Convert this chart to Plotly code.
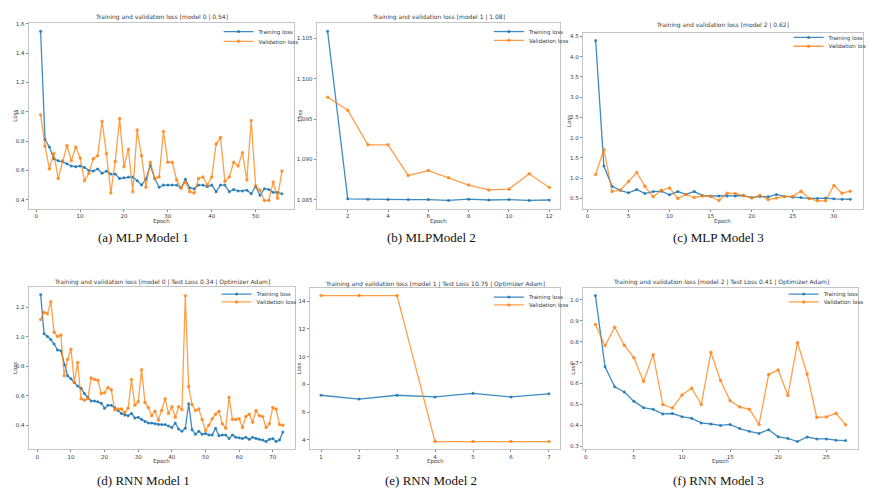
import plotly.graph_objects as go

# ---------------- data ----------------
a_train = [1.55, 0.81, 0.76, 0.68, 0.665, 0.66, 0.645, 0.63, 0.625, 0.63, 0.62, 0.60, 0.595, 0.61, 0.58,
           0.595, 0.575, 0.575, 0.545, 0.55, 0.555, 0.555, 0.53, 0.50, 0.54, 0.635, 0.545, 0.485, 0.50, 0.50,
           0.50, 0.50, 0.48, 0.54, 0.48, 0.475, 0.50, 0.50, 0.49, 0.50, 0.455, 0.50, 0.50, 0.455, 0.47,
           0.46, 0.46, 0.465, 0.44, 0.49, 0.43, 0.475, 0.47, 0.45, 0.45, 0.44]
a_val = [0.98, 0.765, 0.61, 0.715, 0.545, 0.665, 0.77, 0.665, 0.76, 0.685, 0.53, 0.58, 0.68, 0.70, 0.935,
         0.715, 0.445, 0.66, 0.955, 0.625, 0.745, 0.455, 0.875, 0.70, 0.485, 0.655, 0.545, 0.555, 0.865, 0.655,
         0.655, 0.535, 0.48, 0.52, 0.455, 0.445, 0.545, 0.555, 0.50, 0.555, 0.78, 0.825, 0.525, 0.555, 0.655,
         0.63, 0.72, 0.535, 0.94, 0.495, 0.465, 0.395, 0.395, 0.52, 0.41, 0.595]

b_train = [1.1059, 1.08510, 1.08505, 1.08500, 1.08500, 1.08500, 1.08490, 1.08505, 1.08495, 1.08500, 1.08490, 1.08495]
b_val = [1.0977, 1.0961, 1.0918, 1.0918, 1.0880, 1.0886, 1.0877, 1.0868, 1.0862, 1.0863, 1.0882, 1.0865]

c_train = [4.40, 1.30, 0.80, 0.70, 0.64, 0.72, 0.62, 0.67, 0.68, 0.59, 0.67, 0.60, 0.67, 0.57, 0.56, 0.56,
           0.56, 0.56, 0.57, 0.52, 0.55, 0.54, 0.60, 0.55, 0.53, 0.52, 0.50, 0.50, 0.51, 0.49, 0.48, 0.48]
c_val = [1.09, 1.71, 0.67, 0.71, 0.92, 1.14, 0.80, 0.54, 0.70, 0.76, 0.50, 0.60, 0.52, 0.56, 0.55, 0.45,
         0.63, 0.62, 0.57, 0.51, 0.58, 0.47, 0.51, 0.55, 0.55, 0.68, 0.50, 0.44, 0.44, 0.82, 0.63, 0.68]

d_train = [1.284, 1.02, 1.00, 0.98, 0.95, 0.91, 0.905, 0.81, 0.735, 0.715, 0.69, 0.665, 0.65, 0.615, 0.59,
           0.565, 0.565, 0.56, 0.55, 0.515, 0.535, 0.535, 0.52, 0.50, 0.48, 0.47, 0.465, 0.48, 0.45, 0.455,
           0.44, 0.425, 0.415, 0.415, 0.41, 0.405, 0.405, 0.405, 0.395, 0.385, 0.415, 0.375, 0.36, 0.38, 0.545,
           0.37, 0.34, 0.36, 0.34, 0.345, 0.335, 0.335, 0.38, 0.33, 0.335, 0.335, 0.31, 0.335, 0.32, 0.315,
           0.31, 0.32, 0.305, 0.32, 0.31, 0.305, 0.30, 0.29, 0.305, 0.31, 0.29, 0.30, 0.355]
d_val = [1.115, 1.165, 1.155, 1.235, 1.03, 1.00, 1.01, 0.735, 0.845, 0.915, 0.69, 0.825, 0.58, 0.57, 0.58,
         0.72, 0.71, 0.705, 0.615, 0.62, 0.655, 0.64, 0.505, 0.51, 0.51, 0.485, 0.515, 0.71, 0.535, 0.56,
         0.775, 0.555, 0.52, 0.465, 0.495, 0.435, 0.50, 0.58, 0.48, 0.525, 0.455, 0.525, 0.505, 1.277, 0.66,
         0.54, 0.50, 0.51, 0.44, 0.365, 0.40, 0.445, 0.475, 0.495, 0.41, 0.38, 0.59, 0.44, 0.44, 0.445,
         0.385, 0.46, 0.475, 0.42, 0.50, 0.465, 0.46, 0.385, 0.41, 0.52, 0.51, 0.405, 0.40]

e_train = [7.22, 6.94, 7.22, 7.10, 7.36, 7.10, 7.32]
e_val = [14.4, 14.4, 14.4, 3.88, 3.88, 3.88, 3.88]

f_train = [1.02, 0.68, 0.585, 0.56, 0.515, 0.485, 0.477, 0.455, 0.457, 0.442, 0.434, 0.412, 0.407, 0.40,
           0.405, 0.385, 0.372, 0.362, 0.38, 0.346, 0.338, 0.323, 0.345, 0.336, 0.336, 0.33, 0.328]
f_val = [0.882, 0.78, 0.869, 0.783, 0.723, 0.61, 0.738, 0.50, 0.483, 0.545, 0.578, 0.50, 0.749, 0.615,
         0.518, 0.488, 0.478, 0.405, 0.643, 0.665, 0.543, 0.795, 0.646, 0.438, 0.441, 0.458, 0.403]

titles = [
    "Training and validation loss [model 0 | 0.54]",
    "Training and validation loss [model 1 | 1.08]",
    "Training and validation loss [model 2 | 0.62]",
    "Training and validation loss [model 0 | Test Loss 0.34 | Optimizer Adam]",
    "Training and validation loss [model 1 | Test Loss 10.75 | Optimizer Adam]",
    "Training and validation loss [model 2 | Test Loss 0.41 | Optimizer Adam]",
]
captions = ["(a) MLP Model 1", "(b) MLPModel 2", "(c) MLP Model 3",
            "(d) RNN Model 1", "(e) RNN Model 2", "(f) RNN Model 3"]
series_names = ["Training loss", "Validation loss"]

# ---------------- layout geometry (reference pixels, top-left origin) ----------------
RW, RH = 874, 493            # reference picture size
W, H = 866, 485              # figure size (fits inside the page body margin)
frames = [  # x0, x1, y0, y1
    (21, 292, 13, 203),
    (315, 564, 13, 203),
    (587, 873, 23, 203),
    (21, 293, 283, 448),
    (308, 564, 284, 448),
    (587, 868, 284, 448),
]
title_y = [7, 7, 15, 278, 280, 278]
loss_dx = [14, 17, 14, 14, 11, 11]
leg_text_x = [255, 531, 837, 253, 531, 832]
leg_y = [(22, 32), (22, 31), (28, 37), (290, 298), (293, 301), (290, 298)]
xticks = [dict(tick0=0, dtick=10), dict(tick0=0, dtick=2), dict(tick0=0, dtick=5),
          dict(tick0=0, dtick=10), dict(tick0=0, dtick=1), dict(tick0=0, dtick=5)]
yticks = [dict(tick0=0, dtick=0.2, tickformat=".1f"), dict(tick0=0, dtick=0.005, tickformat=".3f"),
          dict(tick0=0, dtick=0.5, tickformat=".1f"), dict(tick0=0, dtick=0.2, tickformat=".1f"),
          dict(tick0=0, dtick=2, tickformat="d"), dict(tick0=0, dtick=0.1, tickformat=".1f")]

series = [(a_train, a_val), (b_train, b_val), (c_train, c_val),
          (d_train, d_val), (e_train, e_val), (f_train, f_val)]

BLUE = "rgba(31,119,180,0.85)"
ORANGE = "rgba(255,127,14,0.75)"
TXT = "#3a3a3a"
FONT = "DejaVu Sans"


def px(x):
    return x / RW


def py(y):
    return 1 - y / RH


fig = go.Figure()
layout = dict(width=W, height=H, margin=dict(l=0, r=0, t=0, b=0),
              paper_bgcolor="white", plot_bgcolor="white", showlegend=True)
annotations = []

for i, ((tr, va), (x0, x1, y0, y1)) in enumerate(zip(series, frames)):
    n = i + 1
    xa = "x" if n == 1 else f"x{n}"
    ya = "y" if n == 1 else f"y{n}"
    lg1 = "legend" if n == 1 else f"legend{n}"
    lg2 = f"legend{n + 6}"
    ep = list(range(1, len(tr) + 1))
    fig.add_trace(go.Scatter(x=ep, y=tr, mode="lines+markers", name=series_names[0],
                             line=dict(color=BLUE, width=1.3), marker=dict(size=3, color=BLUE),
                             xaxis=xa, yaxis=ya, legend=lg1))
    fig.add_trace(go.Scatter(x=ep, y=va, mode="lines+markers", name=series_names[1],
                             line=dict(color=ORANGE, width=1.3), marker=dict(size=3.5, color=ORANGE),
                             xaxis=xa, yaxis=ya, legend=lg2))
    allv = tr + va
    lo, hi = min(allv), max(allv)
    ym = (hi - lo) * 0.05
    xm = (len(ep) - 1) * 0.05
    axis_common = dict(showline=True, mirror=True, linecolor="#c4c4c4", linewidth=1,
                       showgrid=False, zeroline=False, ticks="outside", ticklen=2,
                       tickcolor="#888", tickfont=dict(size=5.5, color=TXT, family=FONT))
    layout["xaxis" if n == 1 else f"xaxis{n}"] = dict(
        domain=[px(x0), px(x1)], anchor=ya, range=[1 - xm, len(ep) + xm],
        **xticks[i], **axis_common)
    layout["yaxis" if n == 1 else f"yaxis{n}"] = dict(
        domain=[py(y1), py(y0)], anchor=xa, range=[lo - ym, hi + ym],
        **yticks[i], **axis_common)
    for lg, ly in ((lg1, leg_y[i][0]), (lg2, leg_y[i][1])):
        layout[lg] = dict(x=px(leg_text_x[i] - 40), y=py(ly), xanchor="left", yanchor="middle",
                          bgcolor="rgba(0,0,0,0)", borderwidth=0,
                          font=dict(size=5.5, color=TXT, family=FONT), itemwidth=30,
                          tracegroupgap=0)
    cx = (x0 + x1) / 2
    annotations.append(dict(text=titles[i], x=px(cx), y=py(title_y[i]), xref="paper", yref="paper",
                            xanchor="center", yanchor="middle", showarrow=False,
                            font=dict(size=6, color=TXT, family=FONT)))
    annotations.append(dict(text="Loss", x=px(x0 - loss_dx[i]), y=py((y0 + y1) / 2),
                            xref="paper", yref="paper", textangle=-90, showarrow=False,
                            xanchor="center", yanchor="middle",
                            font=dict(size=5.5, color=TXT, family=FONT)))
    annotations.append(dict(text="Epoch", x=px(cx), y=py(y1 + 13), xref="paper", yref="paper",
                            xanchor="center", yanchor="middle", showarrow=False,
                            font=dict(size=5.5, color=TXT, family=FONT)))
    cap_y = 232 if i < 3 else 480
    cap_x = [138, 432, 725][i % 3]
    annotations.append(dict(text=captions[i], x=px(cap_x), y=py(cap_y), xref="paper", yref="paper",
                            xanchor="center", yanchor="middle", showarrow=False,
                            font=dict(size=13, color="#111", family="Liberation Serif")))

layout["annotations"] = annotations
fig.update_layout(**layout)
fig.write_html("out.html")
